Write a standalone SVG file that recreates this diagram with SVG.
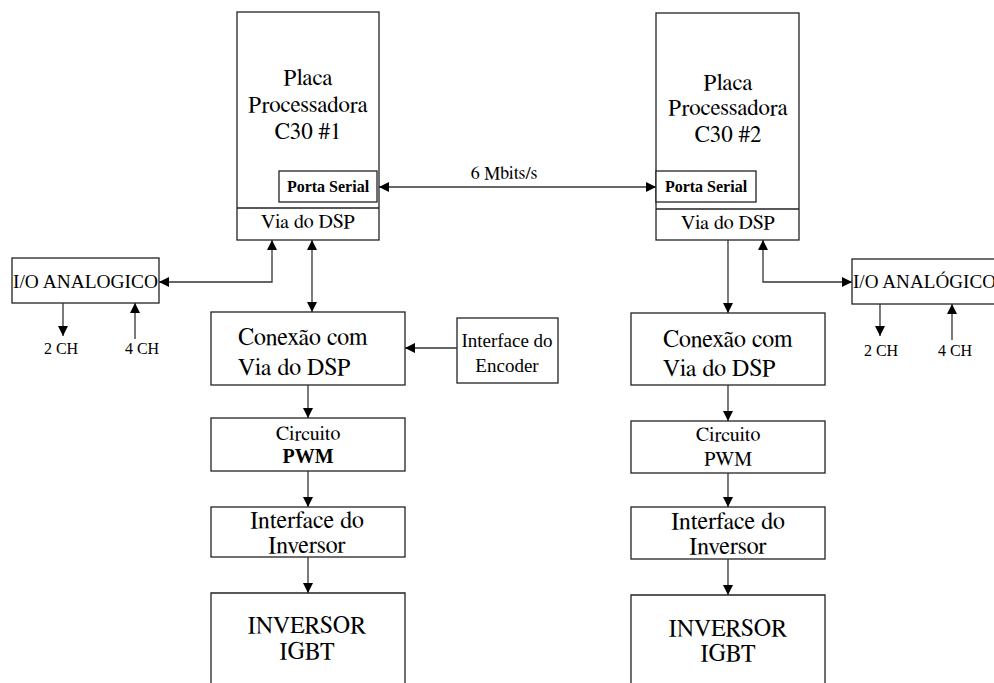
<svg xmlns="http://www.w3.org/2000/svg" width="994" height="683" viewBox="0 0 994 683">
  <style>
    .box { fill: #fff; stroke: #222; stroke-width: 1.3; }
    .t { font-family: "Liberation Serif", "Times New Roman", serif; fill: #000; }
    .big { font-family: "FreeSerif", "Liberation Serif", "Times New Roman", serif; fill: #000; }
    .c { text-anchor: middle; }
    .b { font-weight: bold; }
    .wire { fill: none; stroke: #333; stroke-width: 1.3; }
  </style>
  <defs>
    <marker id="ah" viewBox="0 0 10 10" refX="10" refY="5" markerWidth="10" markerHeight="10" markerUnits="userSpaceOnUse" orient="auto-start-reverse">
      <path d="M0,0 L10,5 L0,10 z" fill="#000"/>
    </marker>
  </defs>
  <rect width="994" height="683" fill="#fff"/>

  <!-- board 1 -->
  <g id="placa1">
    <rect class="box" x="237" y="12" width="142" height="228"/>
    <line class="box" x1="237" y1="208" x2="379" y2="208"/>
    <text class="big c" x="308" y="85" font-size="23">Placa</text>
    <text class="big c" x="308" y="112" font-size="23">Processadora</text>
    <text class="big c" x="308" y="139" font-size="23">C30 #1</text>
    <text class="big c" x="308" y="228" font-size="20">Via do DSP</text>
  </g>
  <g id="serial1">
    <rect class="box" x="279" y="171" width="98" height="31"/>
    <text class="t c b" x="328" y="192" font-size="16">Porta Serial</text>
  </g>

  <!-- board 2 -->
  <g id="placa2">
    <rect class="box" x="656" y="13" width="143" height="227"/>
    <line class="box" x1="656" y1="209" x2="799" y2="209"/>
    <text class="big c" x="728" y="90" font-size="23">Placa</text>
    <text class="big c" x="728" y="115" font-size="23">Processadora</text>
    <text class="big c" x="728" y="142" font-size="23">C30 #2</text>
    <text class="big c" x="728" y="229" font-size="20">Via do DSP</text>
  </g>
  <g id="serial2">
    <rect class="box" x="656" y="171" width="100" height="31"/>
    <text class="t c b" x="706" y="192" font-size="16">Porta Serial</text>
  </g>

  <!-- analog I/O -->
  <g id="io1">
    <rect class="box" x="12" y="258" width="147" height="45"/>
    <text class="t" x="13" y="288" font-size="19" textLength="145" lengthAdjust="spacingAndGlyphs">I/O ANALOGICO</text>
  </g>
  <g id="io2">
    <rect class="box" x="852" y="259" width="150" height="45"/>
    <text class="t" x="853" y="288" font-size="19" textLength="143" lengthAdjust="spacingAndGlyphs">I/O ANALÓGICO</text>
  </g>
  <g id="ch-labels">
    <text class="t c" x="61" y="354" font-size="16">2 CH</text>
    <text class="t c" x="142" y="354" font-size="16">4 CH</text>
    <text class="t c" x="881" y="356" font-size="16">2 CH</text>
    <text class="t c" x="955" y="356" font-size="16">4 CH</text>
  </g>

  <!-- left chain -->
  <g id="conexao1">
    <rect class="box" x="211" y="312" width="194" height="73"/>
    <text class="big" x="238" y="345" font-size="24">Conexão com</text>
    <text class="big" x="238" y="375" font-size="24">Via do DSP</text>
  </g>
  <g id="encoder">
    <rect class="box" x="457" y="318" width="101" height="65"/>
    <text class="t c" x="507" y="347" font-size="19">Interface do</text>
    <text class="t c" x="507" y="372" font-size="19">Encoder</text>
  </g>
  <g id="pwm1">
    <rect class="box" x="211" y="418" width="194" height="53"/>
    <text class="big c" x="308" y="440" font-size="20">Circuito</text>
    <text class="t c b" x="308" y="463" font-size="20">PWM</text>
  </g>
  <g id="interface1">
    <rect class="box" x="211" y="507" width="194" height="50"/>
    <text class="big c" x="307" y="528" font-size="24">Interface do</text>
    <text class="big c" x="307" y="553" font-size="24">Inversor</text>
  </g>
  <g id="inversor1">
    <path class="box" d="M211,684 V593 H405 V684"/>
    <text class="big c" x="307" y="633" font-size="24">INVERSOR</text>
    <text class="big c" x="307" y="659" font-size="24">IGBT</text>
  </g>

  <!-- right chain -->
  <g id="conexao2">
    <rect class="box" x="631" y="313" width="194" height="72"/>
    <text class="big" x="663" y="347" font-size="24">Conexão com</text>
    <text class="big" x="663" y="376" font-size="24">Via do DSP</text>
  </g>
  <g id="pwm2">
    <rect class="box" x="631" y="421" width="194" height="52"/>
    <text class="big c" x="728" y="441" font-size="20">Circuito</text>
    <text class="big c" x="728" y="465" font-size="20">PWM</text>
  </g>
  <g id="interface2">
    <rect class="box" x="631" y="507" width="194" height="52"/>
    <text class="big c" x="728" y="529" font-size="24">Interface do</text>
    <text class="big c" x="728" y="554" font-size="24">Inversor</text>
  </g>
  <g id="inversor2">
    <path class="box" d="M631,684 V595 H825 V684"/>
    <text class="big c" x="728" y="636" font-size="24">INVERSOR</text>
    <text class="big c" x="728" y="661" font-size="24">IGBT</text>
  </g>

  <!-- connectors -->
  <g id="connectors">
    <line class="wire" x1="379" y1="187" x2="656" y2="187" marker-start="url(#ah)" marker-end="url(#ah)"/>
    <text class="big c" x="504" y="179" font-size="18">6 Mbits/s</text>

    <path class="wire" d="M272,240 V282 H159" marker-start="url(#ah)" marker-end="url(#ah)"/>
    <line class="wire" x1="312" y1="240" x2="312" y2="312" marker-start="url(#ah)" marker-end="url(#ah)"/>
    <line class="wire" x1="63" y1="303" x2="63" y2="336" marker-end="url(#ah)"/>
    <line class="wire" x1="135" y1="339" x2="135" y2="303" marker-end="url(#ah)"/>
    <line class="wire" x1="457" y1="348" x2="405" y2="348" marker-end="url(#ah)"/>
    <line class="wire" x1="308" y1="385" x2="308" y2="418" marker-end="url(#ah)"/>
    <line class="wire" x1="308" y1="471" x2="308" y2="507" marker-end="url(#ah)"/>
    <line class="wire" x1="308" y1="557" x2="308" y2="593" marker-end="url(#ah)"/>

    <line class="wire" x1="728" y1="240" x2="728" y2="313" marker-end="url(#ah)"/>
    <path class="wire" d="M763,240 V282 H852" marker-start="url(#ah)" marker-end="url(#ah)"/>
    <line class="wire" x1="880" y1="304" x2="880" y2="336" marker-end="url(#ah)"/>
    <line class="wire" x1="952" y1="340" x2="952" y2="304" marker-end="url(#ah)"/>
    <line class="wire" x1="728" y1="385" x2="728" y2="421" marker-end="url(#ah)"/>
    <line class="wire" x1="728" y1="473" x2="728" y2="507" marker-end="url(#ah)"/>
    <line class="wire" x1="728" y1="559" x2="728" y2="595" marker-end="url(#ah)"/>
  </g>
</svg>
